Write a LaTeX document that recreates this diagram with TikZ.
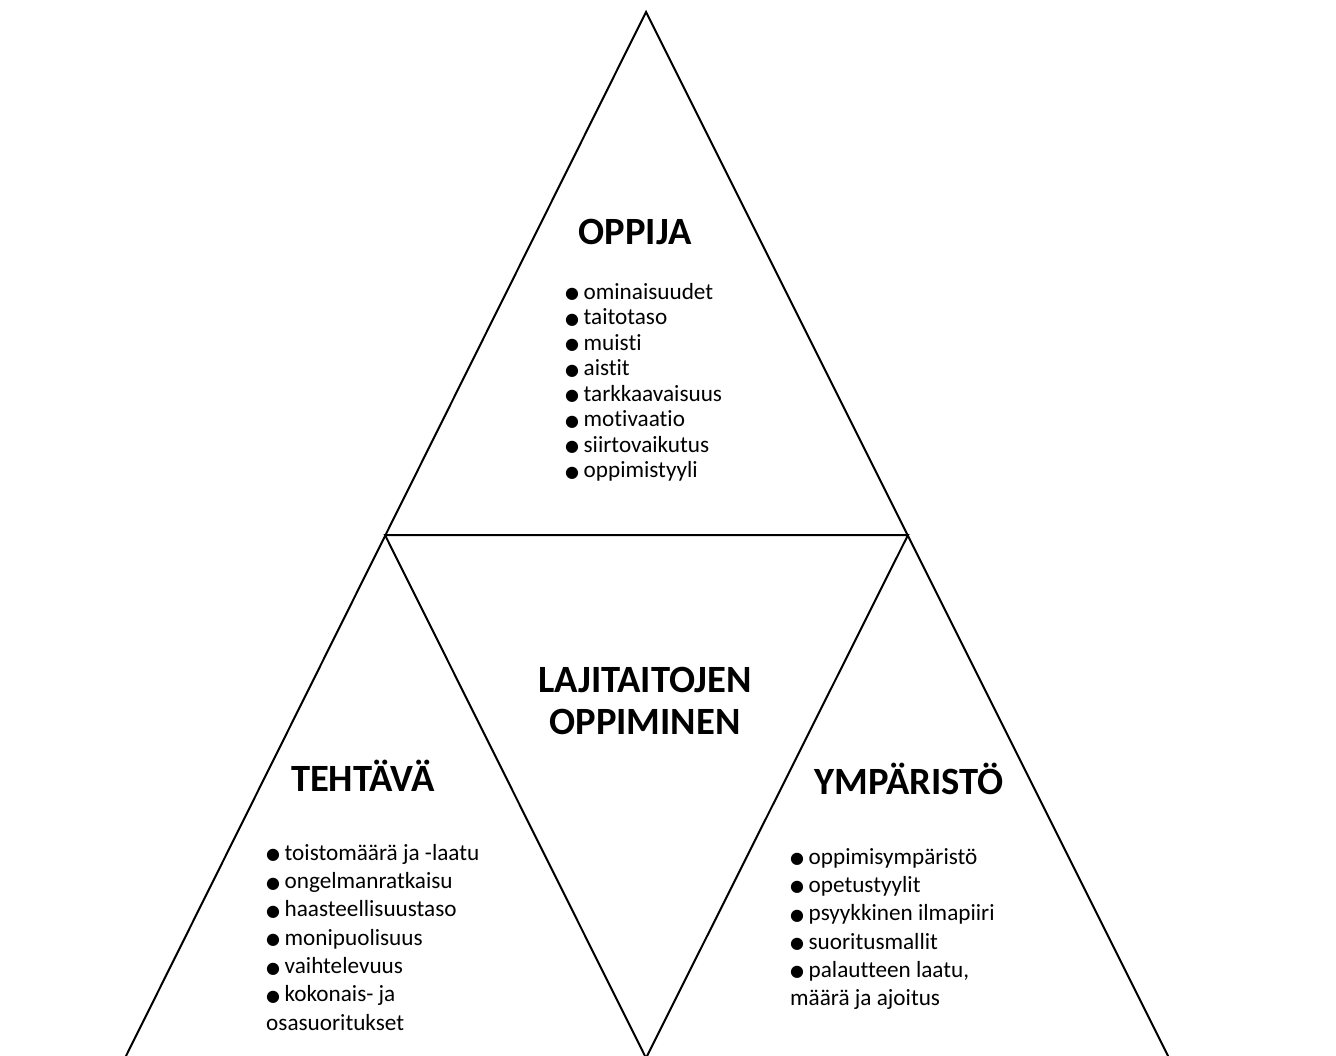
\documentclass[tikz,border=0pt]{standalone}
\usepackage{fontspec}
\setmainfont[Ligatures={NoCommon}]{Carlito}
\newfontfamily\symfont{DejaVu Sans}
\newcommand{\blt}{\raisebox{0.5pt}{\symfont\fontsize{16}{16}\selectfont ●}\hspace{4.5pt}}
\tikzset{
  edge/.style={draw=black, line width=2pt, line join=miter},
  head/.style={font=\fontsize{38.6}{42}\selectfont\bfseries, align=center, inner sep=0pt},
  listA/.style={font=\fontsize{23.2}{25.5}\selectfont, align=left, anchor=north west, inner sep=0pt},
  listB/.style={font=\fontsize{23.2}{28.3}\selectfont, align=left, anchor=north west, inner sep=0pt}
}
\begin{document}
\begin{tikzpicture}[x=1pt,y=-1pt]
\useasboundingbox (0,0) rectangle (1336,1055);
\clip (0,0) rectangle (1336,1055);
\coordinate (apex) at (646,12);
\coordinate (ml) at (385,535);
\coordinate (mr) at (908,535);
\coordinate (bl) at (124,1060);
\coordinate (br) at (1170,1060);
\coordinate (bm) at (646,1058);
\draw[edge] (bl) -- (apex) -- (br);
\draw[edge] (ml) -- (mr) -- (bm) -- cycle;

\node[head] (oppija) at (635,232) {OPPIJA};
\node[listA] (oppijalist) at (565,283) {\blt ominaisuudet\\ \blt taitotaso\\ \blt muisti\\ \blt aistit\\ \blt tarkkaavaisuus\\ \blt motivaatio\\ \blt siirtovaikutus\\ \blt oppimistyyli};

\node[head] (lajit) at (645,701) {LAJITAITOJEN\\OPPIMINEN};

\node[head] (tehtava) at (363,776) {TEHTÄVÄ};
\node[listB] (tehtavalist) at (266,844) {\blt toistomäärä ja -laatu\\ \blt ongelmanratkaisu\\ \blt haasteellisuustaso\\ \blt monipuolisuus\\ \blt vaihtelevuus\\ \blt kokonais- ja\\ osasuoritukset};

\node[head] (ymparisto) at (909,779) {YMPÄRISTÖ};
\node[listB] (ymparistolist) at (790,848) {\blt oppimisympäristö\\ \blt opetustyylit\\ \blt psyykkinen ilmapiiri\\ \blt suoritusmallit\\ \blt palautteen laatu,\\ määrä ja ajoitus};
\end{tikzpicture}
\end{document}
